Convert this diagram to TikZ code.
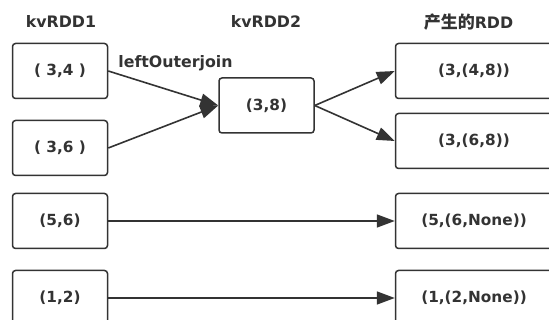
\documentclass[tikz,border=0pt]{standalone}
\usepackage{fontspec}
\setmainfont{DejaVu Sans}
\newfontfamily\cjk{Noto Sans CJK SC Bold}
\usetikzlibrary{arrows.meta}
\definecolor{ink}{HTML}{333333}
\tikzset{
  box/.style={draw=ink, line width=1.5pt, rounded corners=3pt, fill=white,
    inner sep=0pt, font=\bfseries\fontsize{15.3}{17}\selectfont, text=ink},
  lbox/.style={box, minimum width=95pt, minimum height=55pt},
  rbox/.style={box, minimum width=157pt, minimum height=55pt},
  title/.style={font=\bfseries\fontsize{15.8}{17}\selectfont, text=ink},
  link/.style={draw=ink, line width=1.6pt, -{Triangle[length=18pt,width=13pt]}}
}
\begin{document}
\begin{tikzpicture}[x=1pt,y=-1pt]
\useasboundingbox (0,0) rectangle (549,320);
\clip (0,0) rectangle (549,320);
\fill[white] (0,0) rectangle (549,320);

% column headings
\node[title] (h1) at (61,22) {kvRDD1};
\node[title] (h2) at (266,22) {kvRDD2};
\node[title] (h3) at (468.5,22) {{\cjk\fontsize{17}{17}\selectfont 产生的}RDD};

% kvRDD1
\node[lbox] (a1) at (60,71)  {( 3,4 )};
\node[lbox] (a2) at (60,148) {( 3,6 )};
\node[lbox] (a3) at (60,221) {(5,6)};
\node[lbox] (a4) at (60,298) {(1,2)};

% kvRDD2
\node[lbox] (b1) at (266.5,105.5) {(3,8)};

% result
\node[rbox] (c1) at (474,71)  {(3,(4,8))};
\node[rbox] (c2) at (474,141) {(3,(6,8))};
\node[rbox] (c3) at (474,221) {(5,(6,None))};
\node[rbox] (c4) at (474,298) {(1,(2,None))};

\node[title] (lbl) at (175.5,63) {leftOuterjoin};

% connectors
\draw[link] (a1.east) -- (b1.west);
\draw[link] (a2.east) -- (b1.west);
\draw[link] (b1.east) -- (c1.west);
\draw[link] (b1.east) -- (c2.west);
\draw[link] (a3.east) -- (c3.west);
\draw[link] (a4.east) -- (c4.west);
\end{tikzpicture}
\end{document}
